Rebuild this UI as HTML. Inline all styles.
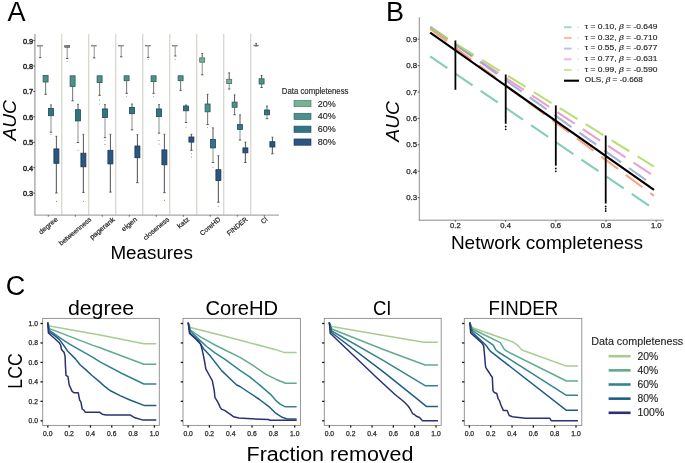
<!DOCTYPE html>
<html><head><meta charset="utf-8"><style>
html,body{margin:0;padding:0;background:#fff;}
body{width:685px;height:463px;overflow:hidden;}
svg{display:block;font-family:"Liberation Sans", sans-serif;will-change:transform;-webkit-font-smoothing:antialiased;}
</style></head><body>
<svg width="685" height="463" viewBox="0 0 685 463">
<rect width="685" height="463" fill="#fff"/>
<text x="7.40" y="20.90" font-size="27" text-anchor="start" fill="#000" >A</text>
<text x="386.00" y="20.90" font-size="27" text-anchor="start" fill="#000" >B</text>
<text x="5.70" y="295.00" font-size="27" text-anchor="start" fill="#000" >C</text>
<line x1="61.70" y1="34.00" x2="61.70" y2="215.10" stroke="#d9d9cf" stroke-width="1.4" />
<line x1="88.70" y1="34.00" x2="88.70" y2="215.10" stroke="#d9d9cf" stroke-width="1.4" />
<line x1="115.70" y1="34.00" x2="115.70" y2="215.10" stroke="#d9d9cf" stroke-width="1.4" />
<line x1="142.70" y1="34.00" x2="142.70" y2="215.10" stroke="#d9d9cf" stroke-width="1.4" />
<line x1="169.70" y1="34.00" x2="169.70" y2="215.10" stroke="#d9d9cf" stroke-width="1.4" />
<line x1="196.70" y1="34.00" x2="196.70" y2="215.10" stroke="#d9d9cf" stroke-width="1.4" />
<line x1="223.70" y1="34.00" x2="223.70" y2="215.10" stroke="#d9d9cf" stroke-width="1.4" />
<line x1="250.70" y1="34.00" x2="250.70" y2="215.10" stroke="#d9d9cf" stroke-width="1.4" />
<line x1="34.90" y1="34.00" x2="34.90" y2="215.60" stroke="#a8a8a8" stroke-width="1.4" />
<line x1="34.90" y1="215.10" x2="278.90" y2="215.10" stroke="#a8a8a8" stroke-width="1.4" />
<line x1="33.30" y1="40.60" x2="34.90" y2="40.60" stroke="#333" stroke-width="0.9" />
<text x="33.20" y="43.60" font-size="7.3" text-anchor="end" fill="#262626" stroke="#262626" stroke-width="0.45" textLength="10.20" lengthAdjust="spacingAndGlyphs" >0.9</text>
<line x1="33.30" y1="66.02" x2="34.90" y2="66.02" stroke="#333" stroke-width="0.9" />
<text x="33.20" y="69.02" font-size="7.3" text-anchor="end" fill="#262626" stroke="#262626" stroke-width="0.45" textLength="10.20" lengthAdjust="spacingAndGlyphs" >0.8</text>
<line x1="33.30" y1="91.44" x2="34.90" y2="91.44" stroke="#333" stroke-width="0.9" />
<text x="33.20" y="94.44" font-size="7.3" text-anchor="end" fill="#262626" stroke="#262626" stroke-width="0.45" textLength="10.20" lengthAdjust="spacingAndGlyphs" >0.7</text>
<line x1="33.30" y1="116.86" x2="34.90" y2="116.86" stroke="#333" stroke-width="0.9" />
<text x="33.20" y="119.86" font-size="7.3" text-anchor="end" fill="#262626" stroke="#262626" stroke-width="0.45" textLength="10.20" lengthAdjust="spacingAndGlyphs" >0.6</text>
<line x1="33.30" y1="142.28" x2="34.90" y2="142.28" stroke="#333" stroke-width="0.9" />
<text x="33.20" y="145.28" font-size="7.3" text-anchor="end" fill="#262626" stroke="#262626" stroke-width="0.45" textLength="10.20" lengthAdjust="spacingAndGlyphs" >0.5</text>
<line x1="33.30" y1="167.70" x2="34.90" y2="167.70" stroke="#333" stroke-width="0.9" />
<text x="33.20" y="170.70" font-size="7.3" text-anchor="end" fill="#262626" stroke="#262626" stroke-width="0.45" textLength="10.20" lengthAdjust="spacingAndGlyphs" >0.4</text>
<line x1="33.30" y1="193.12" x2="34.90" y2="193.12" stroke="#333" stroke-width="0.9" />
<text x="33.20" y="196.12" font-size="7.3" text-anchor="end" fill="#262626" stroke="#262626" stroke-width="0.45" textLength="10.20" lengthAdjust="spacingAndGlyphs" >0.3</text>
<line x1="48.30" y1="215.10" x2="48.30" y2="216.70" stroke="#555" stroke-width="0.9" />
<line x1="75.30" y1="215.10" x2="75.30" y2="216.70" stroke="#555" stroke-width="0.9" />
<line x1="102.30" y1="215.10" x2="102.30" y2="216.70" stroke="#555" stroke-width="0.9" />
<line x1="129.30" y1="215.10" x2="129.30" y2="216.70" stroke="#555" stroke-width="0.9" />
<line x1="156.30" y1="215.10" x2="156.30" y2="216.70" stroke="#555" stroke-width="0.9" />
<line x1="183.30" y1="215.10" x2="183.30" y2="216.70" stroke="#555" stroke-width="0.9" />
<line x1="210.30" y1="215.10" x2="210.30" y2="216.70" stroke="#555" stroke-width="0.9" />
<line x1="237.30" y1="215.10" x2="237.30" y2="216.70" stroke="#555" stroke-width="0.9" />
<line x1="264.30" y1="215.10" x2="264.30" y2="216.70" stroke="#555" stroke-width="0.9" />
<g transform="translate(48.30,225.78) rotate(-40)"><text x="0" y="2.1" font-size="6.8" text-anchor="middle" fill="#262626" stroke="#262626" stroke-width="0.2" textLength="22.50" lengthAdjust="spacingAndGlyphs">degree</text></g>
<g transform="translate(75.30,231.40) rotate(-40)"><text x="0" y="2.1" font-size="6.8" text-anchor="middle" fill="#262626" stroke="#262626" stroke-width="0.2" textLength="40.00" lengthAdjust="spacingAndGlyphs">betweenness</text></g>
<g transform="translate(102.30,228.35) rotate(-40)"><text x="0" y="2.1" font-size="6.8" text-anchor="middle" fill="#262626" stroke="#262626" stroke-width="0.2" textLength="30.50" lengthAdjust="spacingAndGlyphs">pagerank</text></g>
<g transform="translate(129.30,224.33) rotate(-40)"><text x="0" y="2.1" font-size="6.8" text-anchor="middle" fill="#262626" stroke="#262626" stroke-width="0.2" textLength="18.00" lengthAdjust="spacingAndGlyphs">eigen</text></g>
<g transform="translate(156.30,228.67) rotate(-40)"><text x="0" y="2.1" font-size="6.8" text-anchor="middle" fill="#262626" stroke="#262626" stroke-width="0.2" textLength="31.50" lengthAdjust="spacingAndGlyphs">closeness</text></g>
<g transform="translate(183.30,222.88) rotate(-40)"><text x="0" y="2.1" font-size="6.8" text-anchor="middle" fill="#262626" stroke="#262626" stroke-width="0.2" textLength="13.50" lengthAdjust="spacingAndGlyphs">katz</text></g>
<g transform="translate(210.30,226.42) rotate(-40)"><text x="0" y="2.1" font-size="6.8" text-anchor="middle" fill="#262626" stroke="#262626" stroke-width="0.2" textLength="24.50" lengthAdjust="spacingAndGlyphs">CoreHD</text></g>
<g transform="translate(237.30,226.42) rotate(-40)"><text x="0" y="2.1" font-size="6.8" text-anchor="middle" fill="#262626" stroke="#262626" stroke-width="0.2" textLength="24.50" lengthAdjust="spacingAndGlyphs">FINDER</text></g>
<g transform="translate(264.30,220.63) rotate(-40)"><text x="0" y="2.1" font-size="6.8" text-anchor="middle" fill="#262626" stroke="#262626" stroke-width="0.2" textLength="6.50" lengthAdjust="spacingAndGlyphs">CI</text></g>
<text x="110.40" y="258.70" font-size="18.8" text-anchor="start" fill="#000" textLength="82.60" lengthAdjust="spacingAndGlyphs" >Measures</text>
<g transform="translate(15.6,120.3) rotate(-90)"><text x="0" y="0" font-size="19" font-style="italic" text-anchor="middle" textLength="40.5" lengthAdjust="spacingAndGlyphs">AUC</text></g>
<line x1="40.20" y1="46.40" x2="40.20" y2="57.60" stroke="#858585" stroke-width="0.9" />
<line x1="39.00" y1="57.60" x2="41.40" y2="57.60" stroke="#4a4a4a" stroke-width="0.9" />
<rect x="37.70" y="45.20" width="5.0" height="1.00" fill="#9aa69f" stroke="#7a7a7a" stroke-width="0.55"/>
<line x1="45.60" y1="82.00" x2="45.60" y2="94.30" stroke="#808080" stroke-width="1.1" />
<line x1="44.40" y1="94.30" x2="46.80" y2="94.30" stroke="#4a4a4a" stroke-width="0.9" />
<rect x="43.10" y="75.40" width="5.0" height="6.60" fill="#4b938a" stroke="#2f5a55" stroke-width="0.8"/>
<line x1="51.00" y1="104.90" x2="51.00" y2="108.40" stroke="#555" stroke-width="1.0" />
<line x1="50.10" y1="104.90" x2="51.90" y2="104.90" stroke="#555" stroke-width="0.9" />
<line x1="51.00" y1="115.70" x2="51.00" y2="132.20" stroke="#b4b4b4" stroke-width="1.5" />
<line x1="49.80" y1="132.20" x2="52.20" y2="132.20" stroke="#4a4a4a" stroke-width="0.9" />
<rect x="48.50" y="108.40" width="5.0" height="7.30" fill="#2f7582" stroke="#1f4a56" stroke-width="0.8"/>
<circle cx="51.00" cy="134.40" r="0.55" fill="#888"/>
<line x1="56.40" y1="136.30" x2="56.40" y2="148.90" stroke="#555" stroke-width="1.0" />
<line x1="55.50" y1="136.30" x2="57.30" y2="136.30" stroke="#555" stroke-width="0.9" />
<line x1="56.40" y1="163.30" x2="56.40" y2="193.00" stroke="#6a6a72" stroke-width="1.2" />
<line x1="55.20" y1="193.00" x2="57.60" y2="193.00" stroke="#4a4a4a" stroke-width="0.9" />
<rect x="53.90" y="148.90" width="5.0" height="14.40" fill="#2a5682" stroke="#1a3452" stroke-width="0.8"/>
<circle cx="56.40" cy="201.40" r="0.55" fill="#888"/>
<line x1="67.20" y1="47.30" x2="67.20" y2="58.50" stroke="#858585" stroke-width="0.9" />
<line x1="66.00" y1="58.50" x2="68.40" y2="58.50" stroke="#4a4a4a" stroke-width="0.9" />
<rect x="64.70" y="45.60" width="5.0" height="1.70" fill="#6f8079" stroke="#555" stroke-width="0.6"/>
<circle cx="67.20" cy="61.30" r="0.55" fill="#888"/>
<line x1="72.60" y1="86.50" x2="72.60" y2="100.80" stroke="#808080" stroke-width="1.1" />
<line x1="71.40" y1="100.80" x2="73.80" y2="100.80" stroke="#4a4a4a" stroke-width="0.9" />
<rect x="70.10" y="75.80" width="5.0" height="10.70" fill="#4b938a" stroke="#2f5a55" stroke-width="0.8"/>
<line x1="78.00" y1="104.30" x2="78.00" y2="109.70" stroke="#555" stroke-width="1.0" />
<line x1="77.10" y1="104.30" x2="78.90" y2="104.30" stroke="#555" stroke-width="0.9" />
<line x1="78.00" y1="120.90" x2="78.00" y2="142.50" stroke="#b4b4b4" stroke-width="1.5" />
<line x1="76.80" y1="142.50" x2="79.20" y2="142.50" stroke="#4a4a4a" stroke-width="0.9" />
<rect x="75.50" y="109.70" width="5.0" height="11.20" fill="#2f7582" stroke="#1f4a56" stroke-width="0.8"/>
<circle cx="78.00" cy="150.30" r="0.55" fill="#888"/>
<line x1="83.40" y1="134.30" x2="83.40" y2="153.20" stroke="#555" stroke-width="1.0" />
<line x1="82.50" y1="134.30" x2="84.30" y2="134.30" stroke="#555" stroke-width="0.9" />
<line x1="83.40" y1="166.80" x2="83.40" y2="192.40" stroke="#6a6a72" stroke-width="1.2" />
<line x1="82.20" y1="192.40" x2="84.60" y2="192.40" stroke="#4a4a4a" stroke-width="0.9" />
<rect x="80.90" y="153.20" width="5.0" height="13.60" fill="#2a5682" stroke="#1a3452" stroke-width="0.8"/>
<circle cx="83.40" cy="201.40" r="0.55" fill="#888"/>
<line x1="94.20" y1="46.30" x2="94.20" y2="57.90" stroke="#858585" stroke-width="0.9" />
<line x1="93.00" y1="57.90" x2="95.40" y2="57.90" stroke="#4a4a4a" stroke-width="0.9" />
<rect x="91.70" y="45.40" width="5.0" height="0.70" fill="#9aa69f" stroke="#7a7a7a" stroke-width="0.55"/>
<line x1="99.60" y1="82.60" x2="99.60" y2="95.30" stroke="#808080" stroke-width="1.1" />
<line x1="98.40" y1="95.30" x2="100.80" y2="95.30" stroke="#4a4a4a" stroke-width="0.9" />
<rect x="97.10" y="75.80" width="5.0" height="6.80" fill="#4b938a" stroke="#2f5a55" stroke-width="0.8"/>
<circle cx="99.60" cy="100.10" r="0.55" fill="#888"/>
<circle cx="99.60" cy="104.00" r="0.55" fill="#888"/>
<line x1="105.00" y1="104.60" x2="105.00" y2="108.90" stroke="#555" stroke-width="1.0" />
<line x1="104.10" y1="104.60" x2="105.90" y2="104.60" stroke="#555" stroke-width="0.9" />
<line x1="105.00" y1="117.60" x2="105.00" y2="137.60" stroke="#b4b4b4" stroke-width="1.5" />
<line x1="103.80" y1="137.60" x2="106.20" y2="137.60" stroke="#4a4a4a" stroke-width="0.9" />
<rect x="102.50" y="108.90" width="5.0" height="8.70" fill="#2f7582" stroke="#1f4a56" stroke-width="0.8"/>
<circle cx="105.00" cy="140.50" r="0.55" fill="#888"/>
<circle cx="105.00" cy="144.40" r="0.55" fill="#888"/>
<line x1="110.40" y1="134.30" x2="110.40" y2="150.30" stroke="#555" stroke-width="1.0" />
<line x1="109.50" y1="134.30" x2="111.30" y2="134.30" stroke="#555" stroke-width="0.9" />
<line x1="110.40" y1="163.90" x2="110.40" y2="192.10" stroke="#6a6a72" stroke-width="1.2" />
<line x1="109.20" y1="192.10" x2="111.60" y2="192.10" stroke="#4a4a4a" stroke-width="0.9" />
<rect x="107.90" y="150.30" width="5.0" height="13.60" fill="#2a5682" stroke="#1a3452" stroke-width="0.8"/>
<line x1="121.20" y1="46.30" x2="121.20" y2="56.80" stroke="#858585" stroke-width="0.9" />
<line x1="120.00" y1="56.80" x2="122.40" y2="56.80" stroke="#4a4a4a" stroke-width="0.9" />
<rect x="118.70" y="45.40" width="5.0" height="0.70" fill="#9aa69f" stroke="#7a7a7a" stroke-width="0.55"/>
<line x1="126.60" y1="80.70" x2="126.60" y2="93.30" stroke="#808080" stroke-width="1.1" />
<line x1="125.40" y1="93.30" x2="127.80" y2="93.30" stroke="#4a4a4a" stroke-width="0.9" />
<rect x="124.10" y="75.80" width="5.0" height="4.90" fill="#4b938a" stroke="#2f5a55" stroke-width="0.8"/>
<circle cx="126.60" cy="96.20" r="0.55" fill="#888"/>
<line x1="132.00" y1="104.00" x2="132.00" y2="107.50" stroke="#555" stroke-width="1.0" />
<line x1="131.10" y1="104.00" x2="132.90" y2="104.00" stroke="#555" stroke-width="0.9" />
<line x1="132.00" y1="113.70" x2="132.00" y2="129.90" stroke="#b4b4b4" stroke-width="1.5" />
<line x1="130.80" y1="129.90" x2="133.20" y2="129.90" stroke="#4a4a4a" stroke-width="0.9" />
<rect x="129.50" y="107.50" width="5.0" height="6.20" fill="#2f7582" stroke="#1f4a56" stroke-width="0.8"/>
<line x1="137.40" y1="134.70" x2="137.40" y2="146.00" stroke="#555" stroke-width="1.0" />
<line x1="136.50" y1="134.70" x2="138.30" y2="134.70" stroke="#555" stroke-width="0.9" />
<line x1="137.40" y1="157.70" x2="137.40" y2="182.70" stroke="#6a6a72" stroke-width="1.2" />
<line x1="136.20" y1="182.70" x2="138.60" y2="182.70" stroke="#4a4a4a" stroke-width="0.9" />
<rect x="134.90" y="146.00" width="5.0" height="11.70" fill="#2a5682" stroke="#1a3452" stroke-width="0.8"/>
<line x1="148.20" y1="46.30" x2="148.20" y2="57.40" stroke="#858585" stroke-width="0.9" />
<line x1="147.00" y1="57.40" x2="149.40" y2="57.40" stroke="#4a4a4a" stroke-width="0.9" />
<rect x="145.70" y="45.40" width="5.0" height="0.70" fill="#9aa69f" stroke="#7a7a7a" stroke-width="0.55"/>
<circle cx="148.20" cy="59.30" r="0.55" fill="#888"/>
<line x1="153.60" y1="81.60" x2="153.60" y2="93.30" stroke="#808080" stroke-width="1.1" />
<line x1="152.40" y1="93.30" x2="154.80" y2="93.30" stroke="#4a4a4a" stroke-width="0.9" />
<rect x="151.10" y="75.80" width="5.0" height="5.80" fill="#4b938a" stroke="#2f5a55" stroke-width="0.8"/>
<circle cx="153.60" cy="96.20" r="0.55" fill="#888"/>
<line x1="159.00" y1="104.60" x2="159.00" y2="108.90" stroke="#555" stroke-width="1.0" />
<line x1="158.10" y1="104.60" x2="159.90" y2="104.60" stroke="#555" stroke-width="0.9" />
<line x1="159.00" y1="116.60" x2="159.00" y2="133.20" stroke="#b4b4b4" stroke-width="1.5" />
<line x1="157.80" y1="133.20" x2="160.20" y2="133.20" stroke="#4a4a4a" stroke-width="0.9" />
<rect x="156.50" y="108.90" width="5.0" height="7.70" fill="#2f7582" stroke="#1f4a56" stroke-width="0.8"/>
<circle cx="159.00" cy="140.50" r="0.55" fill="#888"/>
<circle cx="159.00" cy="144.00" r="0.55" fill="#888"/>
<line x1="164.40" y1="134.30" x2="164.40" y2="149.90" stroke="#555" stroke-width="1.0" />
<line x1="163.50" y1="134.30" x2="165.30" y2="134.30" stroke="#555" stroke-width="0.9" />
<line x1="164.40" y1="164.80" x2="164.40" y2="192.60" stroke="#6a6a72" stroke-width="1.2" />
<line x1="163.20" y1="192.60" x2="165.60" y2="192.60" stroke="#4a4a4a" stroke-width="0.9" />
<rect x="161.90" y="149.90" width="5.0" height="14.90" fill="#2a5682" stroke="#1a3452" stroke-width="0.8"/>
<circle cx="164.40" cy="200.40" r="0.55" fill="#888"/>
<line x1="175.20" y1="46.30" x2="175.20" y2="56.00" stroke="#858585" stroke-width="0.9" />
<line x1="174.00" y1="56.00" x2="176.40" y2="56.00" stroke="#4a4a4a" stroke-width="0.9" />
<rect x="172.70" y="45.40" width="5.0" height="0.70" fill="#9aa69f" stroke="#7a7a7a" stroke-width="0.55"/>
<circle cx="175.20" cy="59.30" r="0.55" fill="#888"/>
<line x1="180.60" y1="80.70" x2="180.60" y2="90.40" stroke="#808080" stroke-width="1.1" />
<line x1="179.40" y1="90.40" x2="181.80" y2="90.40" stroke="#4a4a4a" stroke-width="0.9" />
<rect x="178.10" y="75.80" width="5.0" height="4.90" fill="#4b938a" stroke="#2f5a55" stroke-width="0.8"/>
<line x1="186.00" y1="105.00" x2="186.00" y2="106.00" stroke="#555" stroke-width="1.0" />
<line x1="185.10" y1="105.00" x2="186.90" y2="105.00" stroke="#555" stroke-width="0.9" />
<line x1="186.00" y1="110.80" x2="186.00" y2="122.50" stroke="#b4b4b4" stroke-width="1.5" />
<line x1="184.80" y1="122.50" x2="187.20" y2="122.50" stroke="#4a4a4a" stroke-width="0.9" />
<rect x="183.50" y="106.00" width="5.0" height="4.80" fill="#2f7582" stroke="#1f4a56" stroke-width="0.8"/>
<circle cx="186.00" cy="127.00" r="0.55" fill="#888"/>
<line x1="191.40" y1="134.30" x2="191.40" y2="137.00" stroke="#555" stroke-width="1.0" />
<line x1="190.50" y1="134.30" x2="192.30" y2="134.30" stroke="#555" stroke-width="0.9" />
<line x1="191.40" y1="142.10" x2="191.40" y2="150.30" stroke="#6a6a72" stroke-width="1.2" />
<line x1="190.20" y1="150.30" x2="192.60" y2="150.30" stroke="#4a4a4a" stroke-width="0.9" />
<rect x="188.90" y="137.00" width="5.0" height="5.10" fill="#2a5682" stroke="#1a3452" stroke-width="0.8"/>
<circle cx="191.40" cy="153.80" r="0.55" fill="#888"/>
<circle cx="191.40" cy="157.10" r="0.55" fill="#888"/>
<line x1="202.20" y1="53.50" x2="202.20" y2="57.90" stroke="#555" stroke-width="1.0" />
<line x1="201.30" y1="53.50" x2="203.10" y2="53.50" stroke="#555" stroke-width="0.9" />
<line x1="202.20" y1="62.20" x2="202.20" y2="74.80" stroke="#858585" stroke-width="0.9" />
<line x1="201.00" y1="74.80" x2="203.40" y2="74.80" stroke="#4a4a4a" stroke-width="0.9" />
<rect x="199.70" y="57.90" width="5.0" height="4.30" fill="#74b496" stroke="#4d6e60" stroke-width="0.8"/>
<line x1="207.60" y1="94.30" x2="207.60" y2="104.00" stroke="#555" stroke-width="1.0" />
<line x1="206.70" y1="94.30" x2="208.50" y2="94.30" stroke="#555" stroke-width="0.9" />
<line x1="207.60" y1="111.80" x2="207.60" y2="124.60" stroke="#808080" stroke-width="1.1" />
<line x1="206.40" y1="124.60" x2="208.80" y2="124.60" stroke="#4a4a4a" stroke-width="0.9" />
<rect x="205.10" y="104.00" width="5.0" height="7.80" fill="#4b938a" stroke="#2f5a55" stroke-width="0.8"/>
<circle cx="207.60" cy="127.50" r="0.55" fill="#888"/>
<line x1="213.00" y1="127.90" x2="213.00" y2="139.50" stroke="#555" stroke-width="1.0" />
<line x1="212.10" y1="127.90" x2="213.90" y2="127.90" stroke="#555" stroke-width="0.9" />
<line x1="213.00" y1="147.90" x2="213.00" y2="162.50" stroke="#b4b4b4" stroke-width="1.5" />
<line x1="211.80" y1="162.50" x2="214.20" y2="162.50" stroke="#4a4a4a" stroke-width="0.9" />
<rect x="210.50" y="139.50" width="5.0" height="8.40" fill="#2f7582" stroke="#1f4a56" stroke-width="0.8"/>
<circle cx="213.00" cy="167.30" r="0.55" fill="#888"/>
<line x1="218.40" y1="155.70" x2="218.40" y2="169.70" stroke="#555" stroke-width="1.0" />
<line x1="217.50" y1="155.70" x2="219.30" y2="155.70" stroke="#555" stroke-width="0.9" />
<line x1="218.40" y1="180.60" x2="218.40" y2="202.20" stroke="#6a6a72" stroke-width="1.2" />
<line x1="217.20" y1="202.20" x2="219.60" y2="202.20" stroke="#4a4a4a" stroke-width="0.9" />
<rect x="215.90" y="169.70" width="5.0" height="10.90" fill="#2a5682" stroke="#1a3452" stroke-width="0.8"/>
<circle cx="218.40" cy="206.30" r="0.55" fill="#888"/>
<line x1="229.20" y1="72.90" x2="229.20" y2="79.30" stroke="#555" stroke-width="1.0" />
<line x1="228.30" y1="72.90" x2="230.10" y2="72.90" stroke="#555" stroke-width="0.9" />
<line x1="229.20" y1="83.60" x2="229.20" y2="89.00" stroke="#858585" stroke-width="0.9" />
<line x1="228.00" y1="89.00" x2="230.40" y2="89.00" stroke="#4a4a4a" stroke-width="0.9" />
<rect x="226.70" y="79.30" width="5.0" height="4.30" fill="#74b496" stroke="#4d6e60" stroke-width="0.8"/>
<line x1="234.60" y1="94.90" x2="234.60" y2="102.10" stroke="#555" stroke-width="1.0" />
<line x1="233.70" y1="94.90" x2="235.50" y2="94.90" stroke="#555" stroke-width="0.9" />
<line x1="234.60" y1="107.30" x2="234.60" y2="114.70" stroke="#808080" stroke-width="1.1" />
<line x1="233.40" y1="114.70" x2="235.80" y2="114.70" stroke="#4a4a4a" stroke-width="0.9" />
<rect x="232.10" y="102.10" width="5.0" height="5.20" fill="#4b938a" stroke="#2f5a55" stroke-width="0.8"/>
<line x1="240.00" y1="114.90" x2="240.00" y2="124.60" stroke="#555" stroke-width="1.0" />
<line x1="239.10" y1="114.90" x2="240.90" y2="114.90" stroke="#555" stroke-width="0.9" />
<line x1="240.00" y1="129.40" x2="240.00" y2="140.10" stroke="#b4b4b4" stroke-width="1.5" />
<line x1="238.80" y1="140.10" x2="241.20" y2="140.10" stroke="#4a4a4a" stroke-width="0.9" />
<rect x="237.50" y="124.60" width="5.0" height="4.80" fill="#2f7582" stroke="#1f4a56" stroke-width="0.8"/>
<line x1="245.40" y1="142.10" x2="245.40" y2="147.90" stroke="#555" stroke-width="1.0" />
<line x1="244.50" y1="142.10" x2="246.30" y2="142.10" stroke="#555" stroke-width="0.9" />
<line x1="245.40" y1="152.80" x2="245.40" y2="162.50" stroke="#6a6a72" stroke-width="1.2" />
<line x1="244.20" y1="162.50" x2="246.60" y2="162.50" stroke="#4a4a4a" stroke-width="0.9" />
<rect x="242.90" y="147.90" width="5.0" height="4.90" fill="#2a5682" stroke="#1a3452" stroke-width="0.8"/>
<line x1="256.20" y1="43.40" x2="256.20" y2="45.20" stroke="#555" stroke-width="1.0" />
<line x1="255.30" y1="43.40" x2="257.10" y2="43.40" stroke="#555" stroke-width="0.9" />
<line x1="256.20" y1="45.90" x2="256.20" y2="45.90" stroke="#858585" stroke-width="0.9" />
<line x1="255.00" y1="45.90" x2="257.40" y2="45.90" stroke="#4a4a4a" stroke-width="0.9" />
<rect x="253.90" y="45.20" width="4.6" height="0.7" fill="#8a9a90" stroke="#6c6c6c" stroke-width="0.6"/>
<line x1="261.60" y1="75.50" x2="261.60" y2="78.80" stroke="#555" stroke-width="1.0" />
<line x1="260.70" y1="75.50" x2="262.50" y2="75.50" stroke="#555" stroke-width="0.9" />
<line x1="261.60" y1="84.00" x2="261.60" y2="87.50" stroke="#808080" stroke-width="1.1" />
<line x1="260.40" y1="87.50" x2="262.80" y2="87.50" stroke="#4a4a4a" stroke-width="0.9" />
<rect x="259.10" y="78.80" width="5.0" height="5.20" fill="#4b938a" stroke="#2f5a55" stroke-width="0.8"/>
<line x1="267.00" y1="106.00" x2="267.00" y2="110.00" stroke="#555" stroke-width="1.0" />
<line x1="266.10" y1="106.00" x2="267.90" y2="106.00" stroke="#555" stroke-width="0.9" />
<line x1="267.00" y1="114.80" x2="267.00" y2="118.70" stroke="#b4b4b4" stroke-width="1.5" />
<line x1="265.80" y1="118.70" x2="268.20" y2="118.70" stroke="#4a4a4a" stroke-width="0.9" />
<rect x="264.50" y="110.00" width="5.0" height="4.80" fill="#2f7582" stroke="#1f4a56" stroke-width="0.8"/>
<line x1="272.40" y1="137.20" x2="272.40" y2="141.70" stroke="#555" stroke-width="1.0" />
<line x1="271.50" y1="137.20" x2="273.30" y2="137.20" stroke="#555" stroke-width="0.9" />
<line x1="272.40" y1="147.00" x2="272.40" y2="153.80" stroke="#6a6a72" stroke-width="1.2" />
<line x1="271.20" y1="153.80" x2="273.60" y2="153.80" stroke="#4a4a4a" stroke-width="0.9" />
<rect x="269.90" y="141.70" width="5.0" height="5.30" fill="#2a5682" stroke="#1a3452" stroke-width="0.8"/>
<text x="281.80" y="94.00" font-size="8.2" text-anchor="start" fill="#262626" stroke="#262626" stroke-width="0.15" textLength="66.70" lengthAdjust="spacingAndGlyphs" >Data completeness</text>
<rect x="294.0" y="100.40" width="17.0" height="6.3" fill="#74b496" stroke="#4d6e60" stroke-width="0.6"/>
<text x="317.80" y="106.50" font-size="8.8" text-anchor="start" fill="#262626" stroke="#262626" stroke-width="0.15" textLength="18.00" lengthAdjust="spacingAndGlyphs" >20%</text>
<rect x="294.0" y="113.25" width="17.0" height="6.3" fill="#4b938a" stroke="#2f5a55" stroke-width="0.6"/>
<text x="317.80" y="119.35" font-size="8.8" text-anchor="start" fill="#262626" stroke="#262626" stroke-width="0.15" textLength="18.00" lengthAdjust="spacingAndGlyphs" >40%</text>
<rect x="294.0" y="126.10" width="17.0" height="6.3" fill="#2f7582" stroke="#1f4a56" stroke-width="0.6"/>
<text x="317.80" y="132.20" font-size="8.8" text-anchor="start" fill="#262626" stroke="#262626" stroke-width="0.15" textLength="18.00" lengthAdjust="spacingAndGlyphs" >60%</text>
<rect x="294.0" y="138.95" width="17.0" height="6.3" fill="#2a5682" stroke="#1a3452" stroke-width="0.6"/>
<text x="317.80" y="145.05" font-size="8.8" text-anchor="start" fill="#262626" stroke="#262626" stroke-width="0.15" textLength="18.00" lengthAdjust="spacingAndGlyphs" >80%</text>
<line x1="419.30" y1="17.20" x2="419.30" y2="220.70" stroke="#8c8c8c" stroke-width="1.0" />
<line x1="418.80" y1="220.20" x2="663.80" y2="220.20" stroke="#8c8c8c" stroke-width="1.0" />
<line x1="417.70" y1="39.20" x2="419.30" y2="39.20" stroke="#444" stroke-width="0.9" />
<text x="417.20" y="41.70" font-size="8.0" text-anchor="end" fill="#262626" stroke="#262626" stroke-width="0.25" textLength="11.00" lengthAdjust="spacingAndGlyphs" >0.9</text>
<line x1="417.70" y1="65.60" x2="419.30" y2="65.60" stroke="#444" stroke-width="0.9" />
<text x="417.20" y="68.10" font-size="8.0" text-anchor="end" fill="#262626" stroke="#262626" stroke-width="0.25" textLength="11.00" lengthAdjust="spacingAndGlyphs" >0.8</text>
<line x1="417.70" y1="92.00" x2="419.30" y2="92.00" stroke="#444" stroke-width="0.9" />
<text x="417.20" y="94.50" font-size="8.0" text-anchor="end" fill="#262626" stroke="#262626" stroke-width="0.25" textLength="11.00" lengthAdjust="spacingAndGlyphs" >0.7</text>
<line x1="417.70" y1="118.40" x2="419.30" y2="118.40" stroke="#444" stroke-width="0.9" />
<text x="417.20" y="120.90" font-size="8.0" text-anchor="end" fill="#262626" stroke="#262626" stroke-width="0.25" textLength="11.00" lengthAdjust="spacingAndGlyphs" >0.6</text>
<line x1="417.70" y1="144.80" x2="419.30" y2="144.80" stroke="#444" stroke-width="0.9" />
<text x="417.20" y="147.30" font-size="8.0" text-anchor="end" fill="#262626" stroke="#262626" stroke-width="0.25" textLength="11.00" lengthAdjust="spacingAndGlyphs" >0.5</text>
<line x1="417.70" y1="171.20" x2="419.30" y2="171.20" stroke="#444" stroke-width="0.9" />
<text x="417.20" y="173.70" font-size="8.0" text-anchor="end" fill="#262626" stroke="#262626" stroke-width="0.25" textLength="11.00" lengthAdjust="spacingAndGlyphs" >0.4</text>
<line x1="417.70" y1="197.60" x2="419.30" y2="197.60" stroke="#444" stroke-width="0.9" />
<text x="417.20" y="200.10" font-size="8.0" text-anchor="end" fill="#262626" stroke="#262626" stroke-width="0.25" textLength="11.00" lengthAdjust="spacingAndGlyphs" >0.3</text>
<line x1="455.40" y1="220.20" x2="455.40" y2="221.80" stroke="#444" stroke-width="0.9" />
<text x="455.40" y="228.00" font-size="7.6" text-anchor="middle" fill="#262626" stroke="#262626" stroke-width="0.25" textLength="10.60" lengthAdjust="spacingAndGlyphs" >0.2</text>
<line x1="505.60" y1="220.20" x2="505.60" y2="221.80" stroke="#444" stroke-width="0.9" />
<text x="505.60" y="228.00" font-size="7.6" text-anchor="middle" fill="#262626" stroke="#262626" stroke-width="0.25" textLength="10.60" lengthAdjust="spacingAndGlyphs" >0.4</text>
<line x1="555.80" y1="220.20" x2="555.80" y2="221.80" stroke="#444" stroke-width="0.9" />
<text x="555.80" y="228.00" font-size="7.6" text-anchor="middle" fill="#262626" stroke="#262626" stroke-width="0.25" textLength="10.60" lengthAdjust="spacingAndGlyphs" >0.6</text>
<line x1="606.00" y1="220.20" x2="606.00" y2="221.80" stroke="#444" stroke-width="0.9" />
<text x="606.00" y="228.00" font-size="7.6" text-anchor="middle" fill="#262626" stroke="#262626" stroke-width="0.25" textLength="10.60" lengthAdjust="spacingAndGlyphs" >0.8</text>
<line x1="656.20" y1="220.20" x2="656.20" y2="221.80" stroke="#444" stroke-width="0.9" />
<text x="656.20" y="228.00" font-size="7.6" text-anchor="middle" fill="#262626" stroke="#262626" stroke-width="0.25" textLength="10.60" lengthAdjust="spacingAndGlyphs" >1.0</text>
<text x="450.90" y="249.40" font-size="19.0" text-anchor="start" fill="#000" textLength="192.20" lengthAdjust="spacingAndGlyphs" >Network completeness</text>
<g transform="translate(399.2,121.4) rotate(-90)"><text x="0" y="0" font-size="19" font-style="italic" text-anchor="middle" textLength="40.5" lengthAdjust="spacingAndGlyphs">AUC</text></g>
<line x1="430.20" y1="56.40" x2="654.00" y2="209.03" stroke="#66c2a5" stroke-width="2.1" stroke-dasharray="20.8 9.7" opacity="0.8"/>
<line x1="430.20" y1="28.90" x2="654.00" y2="195.85" stroke="#fc8d62" stroke-width="2.1" stroke-dasharray="20.8 9.7" opacity="0.8"/>
<line x1="430.20" y1="27.90" x2="654.00" y2="176.28" stroke="#e78ac3" stroke-width="2.1" stroke-dasharray="20.8 9.7" opacity="0.8"/>
<line x1="430.20" y1="26.60" x2="654.00" y2="185.72" stroke="#8da0cb" stroke-width="2.1" stroke-dasharray="20.8 9.7" opacity="0.8"/>
<line x1="430.20" y1="27.80" x2="654.00" y2="166.56" stroke="#a6d854" stroke-width="2.1" stroke-dasharray="20.8 9.7" opacity="0.8"/>
<line x1="430.20" y1="32.7" x2="654.00" y2="189.81" stroke="#000" stroke-width="2.15"/>
<line x1="455.40" y1="40.50" x2="455.40" y2="89.80" stroke="#000" stroke-width="1.8" />
<line x1="505.70" y1="74.50" x2="505.70" y2="123.80" stroke="#000" stroke-width="1.8" />
<circle cx="505.70" cy="126.50" r="0.9" fill="#000"/>
<circle cx="505.70" cy="129.30" r="0.9" fill="#000"/>
<line x1="555.80" y1="105.40" x2="555.80" y2="165.70" stroke="#000" stroke-width="1.8" />
<circle cx="555.80" cy="168.50" r="0.9" fill="#000"/>
<circle cx="555.80" cy="171.30" r="0.9" fill="#000"/>
<line x1="605.70" y1="135.50" x2="605.70" y2="203.50" stroke="#000" stroke-width="1.8" />
<circle cx="605.70" cy="206.50" r="0.9" fill="#000"/>
<circle cx="605.70" cy="208.80" r="0.9" fill="#000"/>
<circle cx="605.70" cy="211.00" r="0.9" fill="#000"/>
<line x1="564.00" y1="27.20" x2="571.60" y2="27.20" stroke="#66c2a5" stroke-width="2.0" opacity="0.6"/>
<line x1="577.50" y1="27.20" x2="578.50" y2="27.20" stroke="#66c2a5" stroke-width="1.6" opacity="0.5"/>
<text x="584.8" y="28.90" font-size="7.2" fill="#262626" stroke="#262626" stroke-width="0.15" textLength="72.6" lengthAdjust="spacingAndGlyphs">τ = 0.10, <tspan font-style="italic">β</tspan> = -0.649</text>
<line x1="564.00" y1="37.90" x2="571.60" y2="37.90" stroke="#fc8d62" stroke-width="2.0" opacity="0.6"/>
<line x1="577.50" y1="37.90" x2="578.50" y2="37.90" stroke="#fc8d62" stroke-width="1.6" opacity="0.5"/>
<text x="584.8" y="39.60" font-size="7.2" fill="#262626" stroke="#262626" stroke-width="0.15" textLength="72.6" lengthAdjust="spacingAndGlyphs">τ = 0.32, <tspan font-style="italic">β</tspan> = -0.710</text>
<line x1="564.00" y1="48.60" x2="571.60" y2="48.60" stroke="#8da0cb" stroke-width="2.0" opacity="0.6"/>
<line x1="577.50" y1="48.60" x2="578.50" y2="48.60" stroke="#8da0cb" stroke-width="1.6" opacity="0.5"/>
<text x="584.8" y="50.30" font-size="7.2" fill="#262626" stroke="#262626" stroke-width="0.15" textLength="72.6" lengthAdjust="spacingAndGlyphs">τ = 0.55, <tspan font-style="italic">β</tspan> = -0.677</text>
<line x1="564.00" y1="59.30" x2="571.60" y2="59.30" stroke="#e78ac3" stroke-width="2.0" opacity="0.6"/>
<line x1="577.50" y1="59.30" x2="578.50" y2="59.30" stroke="#e78ac3" stroke-width="1.6" opacity="0.5"/>
<text x="584.8" y="61.00" font-size="7.2" fill="#262626" stroke="#262626" stroke-width="0.15" textLength="72.6" lengthAdjust="spacingAndGlyphs">τ = 0.77, <tspan font-style="italic">β</tspan> = -0.631</text>
<line x1="564.00" y1="70.00" x2="571.60" y2="70.00" stroke="#a6d854" stroke-width="2.0" opacity="0.6"/>
<line x1="577.50" y1="70.00" x2="578.50" y2="70.00" stroke="#a6d854" stroke-width="1.6" opacity="0.5"/>
<text x="584.8" y="71.70" font-size="7.2" fill="#262626" stroke="#262626" stroke-width="0.15" textLength="72.6" lengthAdjust="spacingAndGlyphs">τ = 0.99, <tspan font-style="italic">β</tspan> = -0.590</text>
<line x1="564.00" y1="80.70" x2="579.00" y2="80.70" stroke="#000" stroke-width="2.1" />
<text x="584.8" y="82.40" font-size="7.2" fill="#262626" stroke="#262626" stroke-width="0.15" textLength="58.0" lengthAdjust="spacingAndGlyphs">OLS, <tspan font-style="italic">β</tspan> =  -0.668</text>
<rect x="42.70" y="318.40" width="116.60" height="107.00" fill="none" stroke="#8a8a8a" stroke-width="0.9"/>
<line x1="40.50" y1="420.80" x2="42.70" y2="420.80" stroke="#111" stroke-width="1.3" />
<line x1="47.80" y1="425.40" x2="47.80" y2="427.60" stroke="#111" stroke-width="1.3" />
<text x="47.80" y="435.60" font-size="6.9" text-anchor="middle" fill="#262626" stroke="#262626" stroke-width="0.25" textLength="9.40" lengthAdjust="spacingAndGlyphs" >0.0</text>
<text x="37.90" y="423.25" font-size="6.9" text-anchor="end" fill="#262626" stroke="#262626" stroke-width="0.25" textLength="9.40" lengthAdjust="spacingAndGlyphs" >0.0</text>
<line x1="40.50" y1="401.34" x2="42.70" y2="401.34" stroke="#111" stroke-width="1.3" />
<line x1="69.12" y1="425.40" x2="69.12" y2="427.60" stroke="#111" stroke-width="1.3" />
<text x="69.12" y="435.60" font-size="6.9" text-anchor="middle" fill="#262626" stroke="#262626" stroke-width="0.25" textLength="9.40" lengthAdjust="spacingAndGlyphs" >0.2</text>
<text x="37.90" y="403.79" font-size="6.9" text-anchor="end" fill="#262626" stroke="#262626" stroke-width="0.25" textLength="9.40" lengthAdjust="spacingAndGlyphs" >0.2</text>
<line x1="40.50" y1="381.88" x2="42.70" y2="381.88" stroke="#111" stroke-width="1.3" />
<line x1="90.44" y1="425.40" x2="90.44" y2="427.60" stroke="#111" stroke-width="1.3" />
<text x="90.44" y="435.60" font-size="6.9" text-anchor="middle" fill="#262626" stroke="#262626" stroke-width="0.25" textLength="9.40" lengthAdjust="spacingAndGlyphs" >0.4</text>
<text x="37.90" y="384.33" font-size="6.9" text-anchor="end" fill="#262626" stroke="#262626" stroke-width="0.25" textLength="9.40" lengthAdjust="spacingAndGlyphs" >0.4</text>
<line x1="40.50" y1="362.42" x2="42.70" y2="362.42" stroke="#111" stroke-width="1.3" />
<line x1="111.76" y1="425.40" x2="111.76" y2="427.60" stroke="#111" stroke-width="1.3" />
<text x="111.76" y="435.60" font-size="6.9" text-anchor="middle" fill="#262626" stroke="#262626" stroke-width="0.25" textLength="9.40" lengthAdjust="spacingAndGlyphs" >0.6</text>
<text x="37.90" y="364.87" font-size="6.9" text-anchor="end" fill="#262626" stroke="#262626" stroke-width="0.25" textLength="9.40" lengthAdjust="spacingAndGlyphs" >0.6</text>
<line x1="40.50" y1="342.96" x2="42.70" y2="342.96" stroke="#111" stroke-width="1.3" />
<line x1="133.08" y1="425.40" x2="133.08" y2="427.60" stroke="#111" stroke-width="1.3" />
<text x="133.08" y="435.60" font-size="6.9" text-anchor="middle" fill="#262626" stroke="#262626" stroke-width="0.25" textLength="9.40" lengthAdjust="spacingAndGlyphs" >0.8</text>
<text x="37.90" y="345.41" font-size="6.9" text-anchor="end" fill="#262626" stroke="#262626" stroke-width="0.25" textLength="9.40" lengthAdjust="spacingAndGlyphs" >0.8</text>
<line x1="40.50" y1="323.50" x2="42.70" y2="323.50" stroke="#111" stroke-width="1.3" />
<line x1="154.40" y1="425.40" x2="154.40" y2="427.60" stroke="#111" stroke-width="1.3" />
<text x="154.40" y="435.60" font-size="6.9" text-anchor="middle" fill="#262626" stroke="#262626" stroke-width="0.25" textLength="9.40" lengthAdjust="spacingAndGlyphs" >1.0</text>
<text x="37.90" y="325.95" font-size="6.9" text-anchor="end" fill="#262626" stroke="#262626" stroke-width="0.25" textLength="9.40" lengthAdjust="spacingAndGlyphs" >1.0</text>
<text x="67.90" y="314.60" font-size="20" text-anchor="start" fill="#000" textLength="66.30" lengthAdjust="spacingAndGlyphs" >degree</text>
<rect x="183.00" y="318.40" width="117.40" height="107.00" fill="none" stroke="#8a8a8a" stroke-width="0.9"/>
<line x1="180.80" y1="420.80" x2="183.00" y2="420.80" stroke="#111" stroke-width="1.3" />
<line x1="188.10" y1="425.40" x2="188.10" y2="427.60" stroke="#111" stroke-width="1.3" />
<text x="188.10" y="435.60" font-size="6.9" text-anchor="middle" fill="#262626" stroke="#262626" stroke-width="0.25" textLength="9.40" lengthAdjust="spacingAndGlyphs" >0.0</text>
<line x1="180.80" y1="401.34" x2="183.00" y2="401.34" stroke="#111" stroke-width="1.3" />
<line x1="209.42" y1="425.40" x2="209.42" y2="427.60" stroke="#111" stroke-width="1.3" />
<text x="209.42" y="435.60" font-size="6.9" text-anchor="middle" fill="#262626" stroke="#262626" stroke-width="0.25" textLength="9.40" lengthAdjust="spacingAndGlyphs" >0.2</text>
<line x1="180.80" y1="381.88" x2="183.00" y2="381.88" stroke="#111" stroke-width="1.3" />
<line x1="230.74" y1="425.40" x2="230.74" y2="427.60" stroke="#111" stroke-width="1.3" />
<text x="230.74" y="435.60" font-size="6.9" text-anchor="middle" fill="#262626" stroke="#262626" stroke-width="0.25" textLength="9.40" lengthAdjust="spacingAndGlyphs" >0.4</text>
<line x1="180.80" y1="362.42" x2="183.00" y2="362.42" stroke="#111" stroke-width="1.3" />
<line x1="252.06" y1="425.40" x2="252.06" y2="427.60" stroke="#111" stroke-width="1.3" />
<text x="252.06" y="435.60" font-size="6.9" text-anchor="middle" fill="#262626" stroke="#262626" stroke-width="0.25" textLength="9.40" lengthAdjust="spacingAndGlyphs" >0.6</text>
<line x1="180.80" y1="342.96" x2="183.00" y2="342.96" stroke="#111" stroke-width="1.3" />
<line x1="273.38" y1="425.40" x2="273.38" y2="427.60" stroke="#111" stroke-width="1.3" />
<text x="273.38" y="435.60" font-size="6.9" text-anchor="middle" fill="#262626" stroke="#262626" stroke-width="0.25" textLength="9.40" lengthAdjust="spacingAndGlyphs" >0.8</text>
<line x1="180.80" y1="323.50" x2="183.00" y2="323.50" stroke="#111" stroke-width="1.3" />
<line x1="294.70" y1="425.40" x2="294.70" y2="427.60" stroke="#111" stroke-width="1.3" />
<text x="294.70" y="435.60" font-size="6.9" text-anchor="middle" fill="#262626" stroke="#262626" stroke-width="0.25" textLength="9.40" lengthAdjust="spacingAndGlyphs" >1.0</text>
<text x="205.40" y="314.60" font-size="20" text-anchor="start" fill="#000" textLength="72.80" lengthAdjust="spacingAndGlyphs" >CoreHD</text>
<rect x="324.30" y="318.40" width="116.90" height="107.00" fill="none" stroke="#8a8a8a" stroke-width="0.9"/>
<line x1="322.10" y1="420.80" x2="324.30" y2="420.80" stroke="#111" stroke-width="1.3" />
<line x1="329.40" y1="425.40" x2="329.40" y2="427.60" stroke="#111" stroke-width="1.3" />
<text x="329.40" y="435.60" font-size="6.9" text-anchor="middle" fill="#262626" stroke="#262626" stroke-width="0.25" textLength="9.40" lengthAdjust="spacingAndGlyphs" >0.0</text>
<line x1="322.10" y1="401.34" x2="324.30" y2="401.34" stroke="#111" stroke-width="1.3" />
<line x1="350.72" y1="425.40" x2="350.72" y2="427.60" stroke="#111" stroke-width="1.3" />
<text x="350.72" y="435.60" font-size="6.9" text-anchor="middle" fill="#262626" stroke="#262626" stroke-width="0.25" textLength="9.40" lengthAdjust="spacingAndGlyphs" >0.2</text>
<line x1="322.10" y1="381.88" x2="324.30" y2="381.88" stroke="#111" stroke-width="1.3" />
<line x1="372.04" y1="425.40" x2="372.04" y2="427.60" stroke="#111" stroke-width="1.3" />
<text x="372.04" y="435.60" font-size="6.9" text-anchor="middle" fill="#262626" stroke="#262626" stroke-width="0.25" textLength="9.40" lengthAdjust="spacingAndGlyphs" >0.4</text>
<line x1="322.10" y1="362.42" x2="324.30" y2="362.42" stroke="#111" stroke-width="1.3" />
<line x1="393.36" y1="425.40" x2="393.36" y2="427.60" stroke="#111" stroke-width="1.3" />
<text x="393.36" y="435.60" font-size="6.9" text-anchor="middle" fill="#262626" stroke="#262626" stroke-width="0.25" textLength="9.40" lengthAdjust="spacingAndGlyphs" >0.6</text>
<line x1="322.10" y1="342.96" x2="324.30" y2="342.96" stroke="#111" stroke-width="1.3" />
<line x1="414.68" y1="425.40" x2="414.68" y2="427.60" stroke="#111" stroke-width="1.3" />
<text x="414.68" y="435.60" font-size="6.9" text-anchor="middle" fill="#262626" stroke="#262626" stroke-width="0.25" textLength="9.40" lengthAdjust="spacingAndGlyphs" >0.8</text>
<line x1="322.10" y1="323.50" x2="324.30" y2="323.50" stroke="#111" stroke-width="1.3" />
<line x1="436.00" y1="425.40" x2="436.00" y2="427.60" stroke="#111" stroke-width="1.3" />
<text x="436.00" y="435.60" font-size="6.9" text-anchor="middle" fill="#262626" stroke="#262626" stroke-width="0.25" textLength="9.40" lengthAdjust="spacingAndGlyphs" >1.0</text>
<text x="372.90" y="314.60" font-size="20" text-anchor="start" fill="#000" textLength="18.50" lengthAdjust="spacingAndGlyphs" >CI</text>
<rect x="464.30" y="318.40" width="117.50" height="107.00" fill="none" stroke="#8a8a8a" stroke-width="0.9"/>
<line x1="462.10" y1="420.80" x2="464.30" y2="420.80" stroke="#111" stroke-width="1.3" />
<line x1="469.40" y1="425.40" x2="469.40" y2="427.60" stroke="#111" stroke-width="1.3" />
<text x="469.40" y="435.60" font-size="6.9" text-anchor="middle" fill="#262626" stroke="#262626" stroke-width="0.25" textLength="9.40" lengthAdjust="spacingAndGlyphs" >0.0</text>
<line x1="462.10" y1="401.34" x2="464.30" y2="401.34" stroke="#111" stroke-width="1.3" />
<line x1="490.72" y1="425.40" x2="490.72" y2="427.60" stroke="#111" stroke-width="1.3" />
<text x="490.72" y="435.60" font-size="6.9" text-anchor="middle" fill="#262626" stroke="#262626" stroke-width="0.25" textLength="9.40" lengthAdjust="spacingAndGlyphs" >0.2</text>
<line x1="462.10" y1="381.88" x2="464.30" y2="381.88" stroke="#111" stroke-width="1.3" />
<line x1="512.04" y1="425.40" x2="512.04" y2="427.60" stroke="#111" stroke-width="1.3" />
<text x="512.04" y="435.60" font-size="6.9" text-anchor="middle" fill="#262626" stroke="#262626" stroke-width="0.25" textLength="9.40" lengthAdjust="spacingAndGlyphs" >0.4</text>
<line x1="462.10" y1="362.42" x2="464.30" y2="362.42" stroke="#111" stroke-width="1.3" />
<line x1="533.36" y1="425.40" x2="533.36" y2="427.60" stroke="#111" stroke-width="1.3" />
<text x="533.36" y="435.60" font-size="6.9" text-anchor="middle" fill="#262626" stroke="#262626" stroke-width="0.25" textLength="9.40" lengthAdjust="spacingAndGlyphs" >0.6</text>
<line x1="462.10" y1="342.96" x2="464.30" y2="342.96" stroke="#111" stroke-width="1.3" />
<line x1="554.68" y1="425.40" x2="554.68" y2="427.60" stroke="#111" stroke-width="1.3" />
<text x="554.68" y="435.60" font-size="6.9" text-anchor="middle" fill="#262626" stroke="#262626" stroke-width="0.25" textLength="9.40" lengthAdjust="spacingAndGlyphs" >0.8</text>
<line x1="462.10" y1="323.50" x2="464.30" y2="323.50" stroke="#111" stroke-width="1.3" />
<line x1="576.00" y1="425.40" x2="576.00" y2="427.60" stroke="#111" stroke-width="1.3" />
<text x="576.00" y="435.60" font-size="6.9" text-anchor="middle" fill="#262626" stroke="#262626" stroke-width="0.25" textLength="9.40" lengthAdjust="spacingAndGlyphs" >1.0</text>
<text x="488.60" y="314.60" font-size="20" text-anchor="start" fill="#000" textLength="69.60" lengthAdjust="spacingAndGlyphs" >FINDER</text>
<polyline points="47.80,323.30 49.50,325.90 100.00,335.10 143.90,343.70 155.60,343.70" fill="none" stroke="#a5cd90" stroke-width="1.5" stroke-linejoin="round" stroke-linecap="square"/>
<polyline points="47.80,323.30 49.50,328.60 93.00,345.40 100.00,347.70 143.90,364.30 155.60,364.30" fill="none" stroke="#61aa90" stroke-width="1.5" stroke-linejoin="round" stroke-linecap="square"/>
<polyline points="47.80,323.30 49.50,330.30 60.00,337.80 70.00,344.30 81.00,350.70 93.00,357.30 100.00,361.90 122.00,373.50 143.90,384.00 155.60,384.00" fill="none" stroke="#33858d" stroke-width="1.5" stroke-linejoin="round" stroke-linecap="square"/>
<polyline points="47.80,323.30 49.00,331.90 54.00,335.20 59.20,339.40 63.50,345.00 67.80,351.30 75.40,358.90 80.30,365.00 85.10,369.10 92.00,375.50 100.00,382.10 105.00,386.70 110.00,390.50 120.00,395.60 130.00,400.00 143.90,405.40 155.60,405.40" fill="none" stroke="#1e5d86" stroke-width="1.5" stroke-linejoin="round" stroke-linecap="square"/>
<polyline points="47.80,323.30 48.40,333.00 53.80,337.80 59.20,342.70 60.80,345.40 61.40,349.20 63.00,351.30 64.10,352.40 65.10,356.70 65.40,365.00 66.00,375.40 68.00,376.70 69.20,385.10 70.50,387.70 71.80,390.90 73.80,392.80 78.30,392.80 79.60,400.00 80.90,401.90 82.20,409.00 84.10,410.30 85.40,412.30 99.70,412.30 102.30,414.20 106.00,414.90 130.00,414.90 135.00,417.80 143.00,420.10 155.60,420.10" fill="none" stroke="#2c3172" stroke-width="1.5" stroke-linejoin="round" stroke-linecap="square"/>
<polyline points="188.30,323.30 190.40,327.40 225.00,336.20 243.00,341.00 275.00,349.40 283.90,352.40 295.90,352.40" fill="none" stroke="#a5cd90" stroke-width="1.5" stroke-linejoin="round" stroke-linecap="square"/>
<polyline points="188.30,323.30 190.40,330.00 200.00,336.60 215.00,345.00 225.00,350.00 240.00,357.30 253.00,365.40 266.00,374.30 275.70,379.20 285.40,383.20 295.90,383.20" fill="none" stroke="#61aa90" stroke-width="1.5" stroke-linejoin="round" stroke-linecap="square"/>
<polyline points="188.30,323.30 190.40,331.00 200.00,340.40 206.60,346.50 215.00,352.80 225.00,359.30 240.00,370.30 249.70,376.80 259.50,384.90 270.80,394.60 275.70,400.30 280.50,404.30 285.40,406.80 295.90,406.80" fill="none" stroke="#33858d" stroke-width="1.5" stroke-linejoin="round" stroke-linecap="square"/>
<polyline points="188.30,323.30 190.00,333.00 199.10,341.60 203.40,348.50 210.80,356.60 221.60,370.60 228.00,376.70 236.70,385.00 240.00,386.50 249.70,393.00 259.50,399.50 269.20,406.80 275.70,413.20 282.20,417.30 287.00,419.00 295.90,419.00" fill="none" stroke="#1e5d86" stroke-width="1.5" stroke-linejoin="round" stroke-linecap="square"/>
<polyline points="188.30,323.30 189.50,333.50 195.80,338.90 200.70,344.30 202.30,350.30 203.90,357.80 205.20,365.00 205.80,368.90 209.70,376.00 212.30,380.60 214.30,390.90 214.90,397.40 218.10,402.60 220.10,407.10 221.40,409.10 224.60,410.40 231.10,414.90 233.70,416.80 238.90,418.10 251.80,418.80 268.50,419.40 269.50,420.30 295.90,420.30" fill="none" stroke="#2c3172" stroke-width="1.5" stroke-linejoin="round" stroke-linecap="square"/>
<polyline points="329.40,323.20 331.80,326.40 384.00,335.50 423.90,342.20 437.20,342.20" fill="none" stroke="#a5cd90" stroke-width="1.5" stroke-linejoin="round" stroke-linecap="square"/>
<polyline points="329.40,323.20 331.80,329.00 384.00,349.70 425.10,365.00 437.20,365.00" fill="none" stroke="#61aa90" stroke-width="1.5" stroke-linejoin="round" stroke-linecap="square"/>
<polyline points="329.40,323.20 331.80,331.00 384.00,360.80 425.10,385.70 437.20,385.70" fill="none" stroke="#33858d" stroke-width="1.5" stroke-linejoin="round" stroke-linecap="square"/>
<polyline points="329.40,323.20 331.50,332.50 384.00,372.40 415.60,397.60 426.30,406.40 437.20,406.40" fill="none" stroke="#1e5d86" stroke-width="1.5" stroke-linejoin="round" stroke-linecap="square"/>
<polyline points="329.40,323.20 330.20,333.30 377.10,378.00 395.00,394.50 400.60,399.00 403.00,401.00 405.00,402.80 406.70,404.50 408.50,406.50 410.30,409.20 411.50,411.50 412.80,413.90 414.50,414.50 416.40,416.30 419.50,417.50 422.50,420.80 437.20,420.80" fill="none" stroke="#2c3172" stroke-width="1.5" stroke-linejoin="round" stroke-linecap="square"/>
<polyline points="469.80,323.20 472.40,327.70 513.20,342.00 518.40,345.90 521.00,349.10 524.00,350.80 566.40,366.10 577.20,366.10" fill="none" stroke="#a5cd90" stroke-width="1.5" stroke-linejoin="round" stroke-linecap="square"/>
<polyline points="469.80,323.20 472.40,329.00 500.30,342.60 504.20,349.10 506.80,351.20 566.40,381.00 577.20,381.00" fill="none" stroke="#61aa90" stroke-width="1.5" stroke-linejoin="round" stroke-linecap="square"/>
<polyline points="469.80,323.20 472.40,330.50 493.20,345.20 495.70,349.70 498.30,352.00 566.40,395.30 577.20,395.30" fill="none" stroke="#33858d" stroke-width="1.5" stroke-linejoin="round" stroke-linecap="square"/>
<polyline points="469.80,323.20 472.00,332.00 486.00,345.20 488.60,349.10 490.60,351.40 566.40,410.30 577.20,410.30" fill="none" stroke="#1e5d86" stroke-width="1.5" stroke-linejoin="round" stroke-linecap="square"/>
<polyline points="469.80,323.20 470.70,332.90 482.10,343.30 483.70,345.90 484.70,356.90 485.40,365.00 485.80,367.60 488.40,371.50 490.40,374.70 492.30,377.30 493.00,390.90 494.30,392.50 496.80,393.50 498.10,398.70 499.40,400.60 500.70,404.50 503.30,410.40 507.20,410.60 509.20,415.50 512.40,416.80 518.90,417.50 525.40,418.20 549.70,418.20 551.40,420.80 577.20,420.80" fill="none" stroke="#2c3172" stroke-width="1.5" stroke-linejoin="round" stroke-linecap="square"/>
<g transform="translate(22.0,371.0) rotate(-90)"><text x="0" y="0" font-size="20" text-anchor="middle" textLength="35.3" lengthAdjust="spacingAndGlyphs">LCC</text></g>
<text x="246.60" y="461.30" font-size="20" text-anchor="start" fill="#000" textLength="166.80" lengthAdjust="spacingAndGlyphs" >Fraction removed</text>
<text x="591.20" y="344.80" font-size="10.4" text-anchor="start" fill="#262626" stroke="#262626" stroke-width="0.15" textLength="92.00" lengthAdjust="spacingAndGlyphs" >Data completeness</text>
<line x1="608.60" y1="356.20" x2="630.60" y2="356.20" stroke="#a5cd90" stroke-width="2.6" />
<text x="637.50" y="359.70" font-size="10.3" text-anchor="start" fill="#262626" stroke="#262626" stroke-width="0.15" textLength="20.70" lengthAdjust="spacingAndGlyphs" >20%</text>
<line x1="608.60" y1="370.35" x2="630.60" y2="370.35" stroke="#61aa90" stroke-width="2.6" />
<text x="637.50" y="373.85" font-size="10.3" text-anchor="start" fill="#262626" stroke="#262626" stroke-width="0.15" textLength="20.70" lengthAdjust="spacingAndGlyphs" >40%</text>
<line x1="608.60" y1="384.50" x2="630.60" y2="384.50" stroke="#33858d" stroke-width="2.6" />
<text x="637.50" y="388.00" font-size="10.3" text-anchor="start" fill="#262626" stroke="#262626" stroke-width="0.15" textLength="20.70" lengthAdjust="spacingAndGlyphs" >60%</text>
<line x1="608.60" y1="398.65" x2="630.60" y2="398.65" stroke="#1e5d86" stroke-width="2.6" />
<text x="637.50" y="402.15" font-size="10.3" text-anchor="start" fill="#262626" stroke="#262626" stroke-width="0.15" textLength="20.70" lengthAdjust="spacingAndGlyphs" >80%</text>
<line x1="608.60" y1="412.80" x2="630.60" y2="412.80" stroke="#2c3172" stroke-width="2.6" />
<text x="637.50" y="416.30" font-size="10.3" text-anchor="start" fill="#262626" stroke="#262626" stroke-width="0.15" textLength="26.70" lengthAdjust="spacingAndGlyphs" >100%</text>
</svg>
</body></html>
